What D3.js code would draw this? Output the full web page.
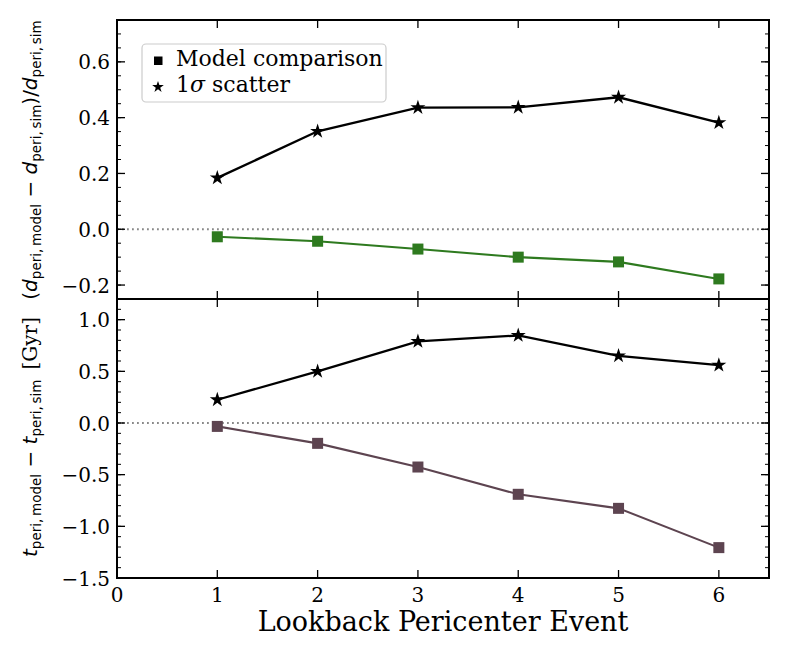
<!DOCTYPE html>
<html>
<head>
<meta charset="utf-8">
<script src="https://cdn.jsdelivr.net/npm/d3@7"></script>
<style>
  body { margin: 0; background: #fff; }
  svg { display: block; }
  .tick-label { font-family: "DejaVu Serif"; font-size: 20px; fill: #000; }
  .legend-label { font-family: "DejaVu Serif"; font-size: 22px; fill: #000; }
</style>
</head>
<body>
<svg id="chart" width="789" height="658"></svg>
<script>
// data
const events = [1, 2, 3, 4, 5, 6];
const distModel = [-0.027, -0.043, -0.071, -0.100, -0.117, -0.178];
const distScatter = [0.184, 0.351, 0.436, 0.437, 0.473, 0.382];
const timeModel = [-0.033, -0.197, -0.426, -0.690, -0.826, -1.206];
const timeScatter = [0.225, 0.500, 0.790, 0.847, 0.650, 0.560];

const xTicks = [0, 1, 2, 3, 4, 5, 6];
const topTicks = [-0.2, 0.0, 0.2, 0.4, 0.6];
const bottomTicks = [-1.5, -1.0, -0.5, 0.0, 0.5, 1.0];

const svg = d3.select("#chart");
const left = 117, right = 769;
const top1 = 20, mid = 299, bot2 = 578;

const x = d3.scaleLinear().domain([0, 6.5]).range([left, right]);
const yTop = d3.scaleLinear().domain([-0.25, 0.75]).range([mid, top1]);
const yBot = d3.scaleLinear().domain([-1.5, 1.2]).range([bot2, mid]);

// draws one panel: ticks, zero line, series, frame
function drawPanel(y, ticks, minorStep, model, scatter, color, showXLabels) {
  const g = svg.append("g");
  const [y0, y1] = y.range(); // bottom, top

  // zero line
  g.append("line")
    .attr("x1", left).attr("x2", right)
    .attr("y1", y(0)).attr("y2", y(0))
    .attr("stroke", "#888").attr("stroke-width", 1.8)
    .attr("stroke-dasharray", "1.8,3.2");

  // minor y ticks
  const dom = y.domain();
  const minors = d3.range(Math.ceil(dom[0] / minorStep), Math.floor(dom[1] / minorStep) + 1)
    .map(k => k * minorStep);
  minors.forEach(v => {
    const yy = y(v);
    g.append("line").attr("x1", left).attr("x2", left + 4).attr("y1", yy).attr("y2", yy)
      .attr("stroke", "#000").attr("stroke-width", 1);
    g.append("line").attr("x1", right).attr("x2", right - 4).attr("y1", yy).attr("y2", yy)
      .attr("stroke", "#000").attr("stroke-width", 1);
  });

  // major y ticks + labels
  ticks.forEach(v => {
    const yy = y(v);
    g.append("line").attr("x1", left).attr("x2", left + 8).attr("y1", yy).attr("y2", yy)
      .attr("stroke", "#000").attr("stroke-width", 1.3);
    g.append("line").attr("x1", right).attr("x2", right - 8).attr("y1", yy).attr("y2", yy)
      .attr("stroke", "#000").attr("stroke-width", 1.3);
    g.append("text").attr("class", "tick-label")
      .attr("x", left - 7).attr("y", yy + 7.5)
      .attr("text-anchor", "end")
      .text(d3.format(".1f")(v).replace("-", "\u2212"));
  });

  // x ticks top and bottom
  xTicks.forEach(v => {
    const xx = x(v);
    g.append("line").attr("x1", xx).attr("x2", xx).attr("y1", y0).attr("y2", y0 - 8)
      .attr("stroke", "#000").attr("stroke-width", 1.3);
    g.append("line").attr("x1", xx).attr("x2", xx).attr("y1", y1).attr("y2", y1 + 8)
      .attr("stroke", "#000").attr("stroke-width", 1.3);
    if (showXLabels) {
      g.append("text").attr("class", "tick-label")
        .attr("x", xx).attr("y", y0 + 24)
        .attr("text-anchor", "middle")
        .text(v);
    }
  });

  const line = d3.line().x((d, i) => x(events[i])).y(d => y(d));

  g.append("path").datum(scatter)
    .attr("d", line).attr("fill", "none")
    .attr("stroke", "#000").attr("stroke-width", 2.3);
  g.append("path").datum(model)
    .attr("d", line).attr("fill", "none")
    .attr("stroke", color).attr("stroke-width", 2.1);

  g.selectAll(".sq").data(model).enter().append("rect")
    .attr("x", (d, i) => x(events[i]) - 5.5)
    .attr("y", d => y(d) - 5.5)
    .attr("width", 11).attr("height", 11)
    .attr("fill", color);

  g.selectAll(".star").data(scatter).enter().append("path")
    .attr("d", d3.symbol().type(d3.symbolStar).size(70))
    .attr("transform", (d, i) => "translate(" + x(events[i]) + "," + y(d) + ")")
    .attr("fill", "#000");

  // frame
  g.append("rect")
    .attr("x", left).attr("y", y1)
    .attr("width", right - left).attr("height", y0 - y1)
    .attr("fill", "none").attr("stroke", "#000").attr("stroke-width", 2);
}

drawPanel(yTop, topTicks, 0.05, distModel, distScatter, "#2e7a1f", false);
drawPanel(yBot, bottomTicks, 0.1, timeModel, timeScatter, "#5d4450", true);

// legend
const leg = svg.append("g");
leg.append("rect")
  .attr("x", 142).attr("y", 44).attr("width", 244).attr("height", 58)
  .attr("rx", 4).attr("fill", "#fff").attr("fill-opacity", 0.8)
  .attr("stroke", "#ccc").attr("stroke-width", 1.2);
leg.append("rect").attr("x", 154).attr("y", 56.5).attr("width", 8.5).attr("height", 8.5).attr("fill", "#000");
leg.append("path")
  .attr("d", d3.symbol().type(d3.symbolStar).size(42))
  .attr("transform", "translate(158,87)").attr("fill", "#000");
leg.append("text").attr("class", "legend-label").attr("x", 176).attr("y", 65.5).text("Model comparison");
const l2 = leg.append("text").attr("class", "legend-label").attr("x", 176).attr("y", 92);
l2.append("tspan").text("1");
l2.append("tspan").attr("font-style", "italic").text("\u03c3");
l2.append("tspan").text(" scatter");

// x label
svg.append("text")
  .attr("x", x(3.25)).attr("y", 631)
  .attr("text-anchor", "middle")
  .attr("font-family", "DejaVu Serif").attr("font-size", 27)
  .text("Lookback Pericenter Event");

// y labels with subscripts
function subLabel(cx, cy, parts) {
  const t = svg.append("text")
    .attr("transform", "translate(" + cx + "," + cy + ") rotate(-90)")
    .attr("text-anchor", "middle")
    .attr("font-family", "DejaVu Sans").attr("font-size", 20);
  parts.forEach(p => {
    const s = t.append("tspan").text(p.t);
    if (p.i) s.attr("font-style", "italic");
    if (p.serif) s.attr("font-family", "DejaVu Serif");
    if (p.sub) s.attr("font-size", 13.5).attr("baseline-shift", "-4");
  });
  return t;
}

subLabel(36.5, 160, [
  { t: "(" }, { t: "d", i: true }, { t: "peri,\u2009model", sub: true },
  { t: " \u2212 " }, { t: "d", i: true }, { t: "peri,\u2009sim", sub: true },
  { t: ")/" }, { t: "d", i: true }, { t: "peri,\u2009sim", sub: true }
]);
subLabel(36.5, 437, [
  { t: "t", i: true }, { t: "peri,\u2009model", sub: true },
  { t: " \u2212 " }, { t: "t", i: true }, { t: "peri,\u2009sim", sub: true },
  { t: "\u2002[Gyr]", serif: true }
]);
</script>
</body>
</html>
